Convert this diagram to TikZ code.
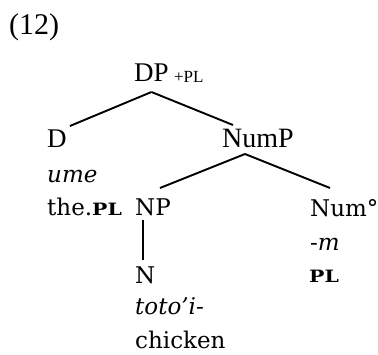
\documentclass[tikz,border=0pt]{standalone}
\usepackage{fontspec}
\setmainfont{Liberation Serif}
\newfontfamily\glossfont{DejaVu Serif}
\usetikzlibrary{calc}
\tikzset{
  lbl/.style={anchor=base west, inner sep=0pt, font=\fontsize{27}{27}\selectfont},
  gl/.style={anchor=base west, inner sep=0pt, font=\glossfont\fontsize{23}{23}\selectfont},
  branch/.style={line width=1.9pt, black}
}
\newcommand{\glossbold}[1]{\scalebox{1.2}[1]{\glossfont\bfseries\fontsize{17}{17}\selectfont #1}}
\newcommand{\feat}[1]{{\fontsize{17}{17}\selectfont #1}}
\begin{document}
\begin{tikzpicture}[x=1pt,y=-1pt]
  \useasboundingbox (0,0) rectangle (378,354);
  % example number
  \node[lbl, font=\fontsize{30}{30}\selectfont] (ex) at (9,34) {(12)};
  % tree labels
  \node[lbl] (DP) at (134,81) {DP};
  \node[anchor=base west, inner sep=0pt] (DPsub) at ($(DP.base east)+(5,1)$) {\feat{+PL}};
  \node[lbl] (D) at (47,147) {D};
  \node[lbl, font=\fontsize{28}{28}\selectfont] (NumP) at (222,147) {NumP};
  \node[gl] (NP) at (135,215) {NP};
  \node[gl] (Num) at (310,216) {Num°};
  \node[gl] (N) at (135,283) {N};
  % glosses
  \node[gl] (ume) at (47,182) {\itshape ume};
  \node[gl] (the) at (47,215) {the.\glossbold{PL}};
  \node[gl] (m) at (310,250) {-\textit{m}};
  \node[anchor=base west, inner sep=0pt] (pl) at (309,282) {\glossbold{PL}};
  \node[gl] (toto) at (135,314) {\itshape toto’i-};
  \node[gl] (chicken) at (135,348) {chicken};
  % branches
  \coordinate (DPb) at ($(DP.base)+(0,11)$);
  \coordinate (NumPb) at ($(NumP.base west)+(23,7)$);
  \draw[branch] (DPb) -- ($(D.base east)+(3,-21)$);
  \draw[branch] (DPb) -- ($(NumP.base west)+(11,-22)$);
  \draw[branch] (NumPb) -- ($(NP.base west)+(25,-27)$);
  \draw[branch] (NumPb) -- ($(Num.base west)+(20,-28)$);
  \draw[branch] ($(NP.base west)+(8,5)$) -- ($(N.base west)+(8,-23)$);
\end{tikzpicture}
\end{document}
